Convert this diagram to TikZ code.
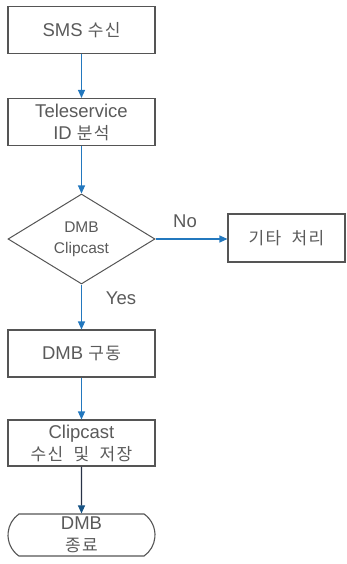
\documentclass[tikz,border=0pt]{standalone}
\usepackage{fontspec}
\setmainfont{Liberation Sans}
\newfontfamily\korfont{Noto Sans CJK KR}[LetterSpace=8,WordSpace=2,Scale=0.92]
\newcommand\kor[1]{{\korfont #1}}
\usetikzlibrary{arrows.meta,shapes.geometric,shapes.misc}
\definecolor{boxline}{RGB}{85,85,85}
\definecolor{txt}{RGB}{90,90,90}
\definecolor{arrowblue}{RGB}{35,120,190}
\definecolor{darkline}{RGB}{40,50,70}
\begin{document}
\begin{tikzpicture}[x=1pt,y=-1pt,
  font=\fontsize{18.5}{22}\selectfont,
  proc/.style={draw=boxline, line width=1.1pt, minimum width=147pt, minimum height=47pt, inner sep=0pt, align=center, text=txt},
  dec/.style={diamond, draw=boxline, line width=1pt, minimum width=147pt, minimum height=84pt, inner sep=0pt, align=center, text=txt, font=\fontsize{15.5}{21}\selectfont},
  term/.style={rounded rectangle, rounded rectangle arc length=110, draw=boxline, line width=1.1pt, minimum width=147pt, minimum height=42pt, inner sep=0pt, align=center, text=txt},
  flow/.style={draw=arrowblue, line width=1.1pt, -{Triangle[width=7pt,length=8pt]}},
  flowdark/.style={draw=darkline, line width=1.1pt, -{Triangle[width=7pt,length=8pt,color=arrowblue!70!black]}},
  lbl/.style={text=txt, inner sep=0pt}
]
\useasboundingbox (0,0) rectangle (346,564);
\node[proc] (b1) at (81.5,30) {SMS \kor{수신}};
\node[proc] (b2) at (81.5,122) {Teleservice\\ID \kor{분석}};
\node[dec] (d) at (81.5,239) {DMB\\Clipcast};
\node[proc, minimum width=117pt, minimum height=48pt] (b3) at (286.5,238) {\kor{기타 처리}};
\node[proc] (b4) at (81.5,353.5) {DMB \kor{구동}};
\node[proc, minimum height=46pt] (b5) at (81.5,443) {Clipcast\\\kor{수신 및 저장}};
\node[term] (t) at (81.5,535) {DMB\\\kor{종료}};
\draw[flow] (b1) -- (b2);
\draw[flow] (b2) -- (d);
\draw[flow] (d.east) -- (d.east -| b3.west);
\draw[flow] (d.south) -- (b4);
\draw[flow] (b4) -- (b5);
\draw[flowdark] (b5) -- (t);
\node[lbl] (no) at (185,221) {No};
\node[lbl] (yes) at (121,298) {Yes};
\end{tikzpicture}
\end{document}
